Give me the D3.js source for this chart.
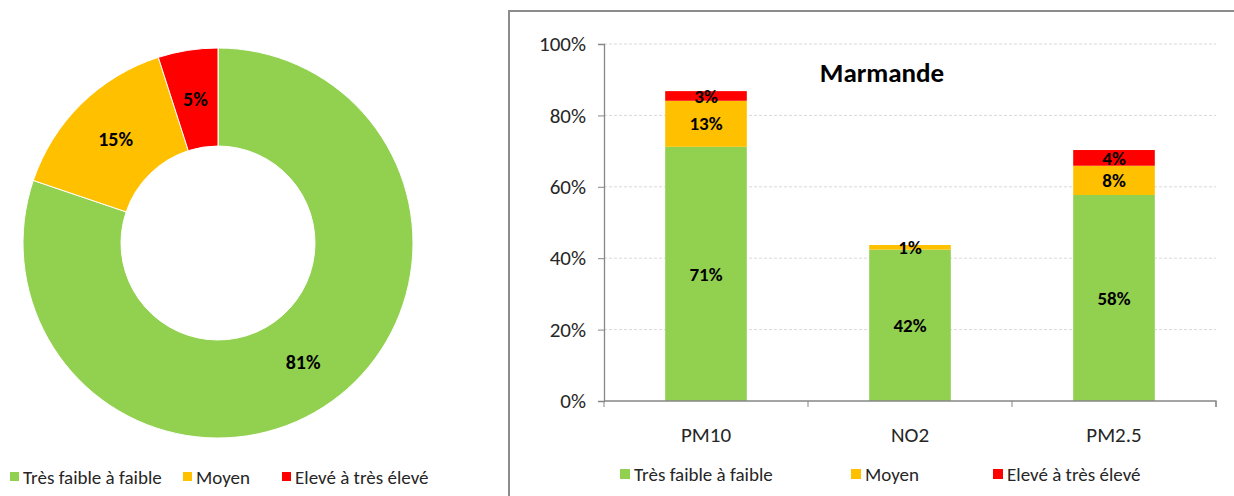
<!DOCTYPE html>
<html>
<head>
<meta charset="utf-8">
<script src="https://cdn.jsdelivr.net/npm/d3@7"></script>
<style>
  body { margin: 0; background: #fff; }
  svg { font-family: Carlito, Calibri, Lato, "Open Sans", sans-serif; }
</style>
</head>
<body>
<div id="container"></div>
<script>
/* DATA */
const classes = ["Très faible à faible", "Moyen", "Elevé à très élevé"];
const colors = ["#92D050", "#FFC000", "#FF0000"];
const donutValues = [81, 15, 5];

const pollutants = ["PM10", "NO2", "PM2.5"];
const faible = [71.2, 42.4, 57.7];
const moyen = [12.9, 1.3, 8.2];
const eleve = [2.7, 0, 4.4];
const yTicks = [0, 0.2, 0.4, 0.6, 0.8, 1];
const title = "Marmande";

const W = 1234, H = 496;
const svg = d3.select('#container')
  .append('svg')
  .attr("width", W)
  .attr("height", H);

/* DONUT */
const donut = svg.append('g')
  .attr("transform", "translate(218, 243)");

const pie = d3.pie().sort(null)(donutValues);
const arc = d3.arc().innerRadius(97).outerRadius(195);

donut.selectAll('path')
  .data(pie)
  .enter()
  .append('path')
  .attr('d', arc)
  .attr('fill', (d, i) => colors[i])
  .attr('stroke', '#fff')
  .attr('stroke-width', 1);

donut.selectAll('.lbl')
  .data(pie)
  .enter()
  .append('text')
  .attr('class', 'lbl')
  .attr('x', d => arc.centroid(d)[0])
  .attr('y', d => arc.centroid(d)[1])
  .attr('dy', '0.35em')
  .attr('text-anchor', 'middle')
  .attr('font-size', 20)
  .attr('font-weight', 'bold')
  .attr('fill', '#000')
  .text(d => d.data + '%');

// donut legend
const leg1X = [10, 183, 282];
classes.forEach((c, i) => {
  svg.append('rect')
    .attr('x', leg1X[i]).attr('y', 472)
    .attr('width', 9).attr('height', 9)
    .attr('fill', colors[i]);
  svg.append('text')
    .attr('x', leg1X[i] + 13).attr('y', 477)
    .attr('dy', '0.35em')
    .attr('font-size', 19)
    .attr('fill', '#262626')
    .text(c);
});

/* BAR CHART */
// frame
svg.append('rect')
  .attr('x', 509).attr('y', 11)
  .attr('width', 740).attr('height', 500)
  .attr('fill', 'none')
  .attr('stroke', '#8c8c8c')
  .attr('stroke-width', 2);

const margin = { top: 44, left: 604, right: 1216, bottom: 401 };

const xScale = d3.scaleBand()
  .domain(pollutants)
  .range([margin.left, margin.right])
  .paddingInner(0.6)
  .paddingOuter(0.3);

const xAxisScale = d3.scaleBand()
  .domain(pollutants)
  .range([margin.left, margin.right]);

const yScale = d3.scaleLinear()
  .domain([0, 1])
  .range([margin.bottom, margin.top]);

// gridlines
svg.append('g')
  .selectAll('line')
  .data(yTicks.slice(1))
  .enter()
  .append('line')
  .attr('x1', margin.left).attr('x2', margin.right)
  .attr('y1', d => yScale(d)).attr('y2', d => yScale(d))
  .attr('stroke', '#d9d9d9')
  .attr('stroke-dasharray', '3,2');

// stacked bars
const table = pollutants.map((p, i) => ({ p, s0: faible[i] / 100, s1: moyen[i] / 100, s2: eleve[i] / 100 }));
const stack = d3.stack().keys(['s0', 's1', 's2'])(table);

const layers = svg.append('g')
  .selectAll('g')
  .data(stack)
  .enter()
  .append('g')
  .attr('fill', (d, i) => colors[i]);

layers.selectAll('rect')
  .data(d => d)
  .enter()
  .append('rect')
  .attr('x', d => xScale(d.data.p))
  .attr('width', xScale.bandwidth())
  .attr('y', d => yScale(d[1]))
  .attr('height', d => yScale(d[0]) - yScale(d[1]));

layers.selectAll('text')
  .data(d => d.filter(e => e[1] - e[0] > 0))
  .enter()
  .append('text')
  .attr('x', d => xScale(d.data.p) + xScale.bandwidth() / 2)
  .attr('y', d => yScale((d[0] + d[1]) / 2))
  .attr('dy', '0.35em')
  .attr('text-anchor', 'middle')
  .attr('font-size', 19)
  .attr('font-weight', 'bold')
  .attr('fill', '#000')
  .text(d => Math.round((d[1] - d[0]) * 100) + '%');

// y axis
const yAxis = svg.append('g')
  .attr('transform', `translate(${margin.left},0)`)
  .call(d3.axisLeft(yScale).tickValues(yTicks).tickFormat(d3.format('.0%')).tickSize(6).tickPadding(12));

// x axis
const xAxis = svg.append('g')
  .attr('transform', `translate(0,${margin.bottom})`)
  .call(d3.axisBottom(xAxisScale).tickSize(0).tickPadding(26));

xAxis.selectAll('.tick')
  .append('line')
  .attr('x1', xAxisScale.bandwidth() / 2).attr('x2', xAxisScale.bandwidth() / 2)
  .attr('y1', 0).attr('y2', 6)
  .attr('stroke', '#868686');
xAxis.append('line')
  .attr('x1', margin.left).attr('x2', margin.left)
  .attr('y1', 0).attr('y2', 6)
  .attr('stroke', '#868686');

[yAxis, xAxis].forEach(a => {
  a.select('.domain').attr('stroke', '#868686').attr('stroke-width', 1.3);
  a.selectAll('.tick line').attr('stroke', '#868686');
  a.selectAll('text').attr('font-size', 21).attr('fill', '#262626')
    .attr('font-family', 'Carlito, Calibri, Lato, "Open Sans", sans-serif');
});
xAxis.select('.domain').attr('d', `M${margin.left},0H${margin.right}V6`);

// title
svg.append('text')
  .attr('x', 882).attr('y', 82)
  .attr('text-anchor', 'middle')
  .attr('font-size', 27)
  .attr('font-weight', 'bold')
  .attr('fill', '#000')
  .text(title);

// bar legend
const leg2X = [620, 851, 993];
classes.forEach((c, i) => {
  svg.append('rect')
    .attr('x', leg2X[i]).attr('y', 469)
    .attr('width', 10).attr('height', 10)
    .attr('fill', colors[i]);
  svg.append('text')
    .attr('x', leg2X[i] + 14).attr('y', 474)
    .attr('dy', '0.35em')
    .attr('font-size', 19)
    .attr('fill', '#262626')
    .text(c);
});
</script>
</body>
</html>
